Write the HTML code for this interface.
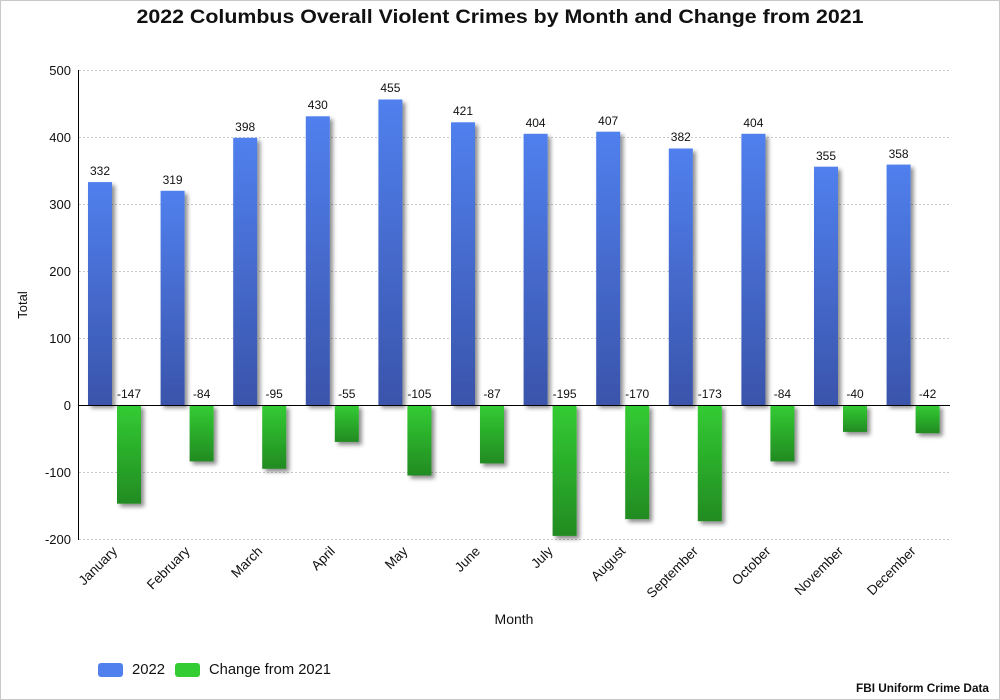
<!DOCTYPE html>
<html>
<head>
<meta charset="utf-8">
<style>
html,body{margin:0;padding:0;background:#fff;}
svg{display:block;}
text{font-family:"Liberation Sans",Arial,sans-serif;fill:#111;}
</style>
</head>
<body>
<svg width="1000" height="700" viewBox="0 0 1000 700" xmlns="http://www.w3.org/2000/svg">
<defs>
<linearGradient id="gb" x1="0" y1="0" x2="0" y2="1">
<stop offset="0" stop-color="#5080ee"/>
<stop offset="1" stop-color="#3a54ab"/>
</linearGradient>
<linearGradient id="gg" x1="0" y1="0" x2="0" y2="1">
<stop offset="0" stop-color="#33cc33"/>
<stop offset="1" stop-color="#228b22"/>
</linearGradient>
<filter id="sh" x="-30%" y="-10%" width="160%" height="130%">
<feDropShadow dx="3" dy="3" stdDeviation="2.2" flood-color="#000" flood-opacity="0.45"/>
</filter>
</defs>
<rect x="0.5" y="0.5" width="999" height="699" fill="#fff" stroke="#c8c8c8"/>

<text x="500" y="23" text-anchor="middle" font-size="19" font-weight="bold" textLength="727" lengthAdjust="spacingAndGlyphs">2022 Columbus Overall Violent Crimes by Month and Change from 2021</text>

<!-- gridlines -->
<g stroke="#c8c8c8" stroke-width="1" stroke-dasharray="2,2">
<line x1="79" y1="70.5" x2="950" y2="70.5"/>
<line x1="79" y1="137.5" x2="950" y2="137.5"/>
<line x1="79" y1="204.5" x2="950" y2="204.5"/>
<line x1="79" y1="271.5" x2="950" y2="271.5"/>
<line x1="79" y1="338.5" x2="950" y2="338.5"/>
<line x1="79" y1="472.5" x2="950" y2="472.5"/>
<line x1="79" y1="539.5" x2="950" y2="539.5"/>
</g>

<!-- y tick labels -->
<g font-size="13" text-anchor="end">
<text x="71" y="75">500</text>
<text x="71" y="142">400</text>
<text x="71" y="209">300</text>
<text x="71" y="276">200</text>
<text x="71" y="343">100</text>
<text x="71" y="410">0</text>
<text x="71" y="477">-100</text>
<text x="71" y="544">-200</text>
</g>

<text transform="translate(27,305) rotate(-90)" text-anchor="middle" font-size="13">Total</text>

<!-- bars -->
<g filter="url(#sh)">
<rect x="88" y="182.1" width="24" height="222.9" fill="url(#gb)"/>
<rect x="160.6" y="190.8" width="24" height="214.2" fill="url(#gb)"/>
<rect x="233.2" y="137.8" width="24" height="267.2" fill="url(#gb)"/>
<rect x="305.8" y="116.3" width="24" height="288.7" fill="url(#gb)"/>
<rect x="378.4" y="99.5" width="24" height="305.5" fill="url(#gb)"/>
<rect x="451" y="122.3" width="24" height="282.7" fill="url(#gb)"/>
<rect x="523.6" y="133.8" width="24" height="271.2" fill="url(#gb)"/>
<rect x="596.2" y="131.7" width="24" height="273.3" fill="url(#gb)"/>
<rect x="668.8" y="148.5" width="24" height="256.5" fill="url(#gb)"/>
<rect x="741.4" y="133.8" width="24" height="271.2" fill="url(#gb)"/>
<rect x="814" y="166.7" width="24" height="238.3" fill="url(#gb)"/>
<rect x="886.6" y="164.6" width="24" height="240.4" fill="url(#gb)"/>

<rect x="117" y="405" width="24" height="98.7" fill="url(#gg)"/>
<rect x="189.6" y="405" width="24" height="56.4" fill="url(#gg)"/>
<rect x="262.2" y="405" width="24" height="63.8" fill="url(#gg)"/>
<rect x="334.8" y="405" width="24" height="36.9" fill="url(#gg)"/>
<rect x="407.4" y="405" width="24" height="70.5" fill="url(#gg)"/>
<rect x="480" y="405" width="24" height="58.4" fill="url(#gg)"/>
<rect x="552.6" y="405" width="24" height="130.9" fill="url(#gg)"/>
<rect x="625.2" y="405" width="24" height="114.1" fill="url(#gg)"/>
<rect x="697.8" y="405" width="24" height="116.2" fill="url(#gg)"/>
<rect x="770.4" y="405" width="24" height="56.4" fill="url(#gg)"/>
<rect x="843" y="405" width="24" height="26.9" fill="url(#gg)"/>
<rect x="915.6" y="405" width="24" height="28.2" fill="url(#gg)"/>
</g>

<!-- axes -->
<line x1="78.5" y1="70" x2="78.5" y2="540" stroke="#000" stroke-width="1"/>
<line x1="78" y1="405.5" x2="950" y2="405.5" stroke="#000" stroke-width="1"/>

<!-- value labels -->
<g font-size="12" text-anchor="middle">
<text x="100" y="175">332</text>
<text x="172.6" y="184">319</text>
<text x="245.2" y="131">398</text>
<text x="317.8" y="109">430</text>
<text x="390.4" y="92">455</text>
<text x="463" y="115">421</text>
<text x="535.6" y="127">404</text>
<text x="608.2" y="125">407</text>
<text x="680.8" y="141">382</text>
<text x="753.4" y="127">404</text>
<text x="826" y="160">355</text>
<text x="898.6" y="158">358</text>

<text x="129" y="398">-147</text>
<text x="201.6" y="398">-84</text>
<text x="274.2" y="398">-95</text>
<text x="346.8" y="398">-55</text>
<text x="419.4" y="398">-105</text>
<text x="492" y="398">-87</text>
<text x="564.6" y="398">-195</text>
<text x="637.2" y="398">-170</text>
<text x="709.8" y="398">-173</text>
<text x="782.4" y="398">-84</text>
<text x="855" y="398">-40</text>
<text x="927.6" y="398">-42</text>
</g>

<!-- x tick labels -->
<g font-size="13.5" text-anchor="end">
<text transform="translate(118,552) rotate(-45)">January</text>
<text transform="translate(190.6,552) rotate(-45)">February</text>
<text transform="translate(263.2,552) rotate(-45)">March</text>
<text transform="translate(335.8,552) rotate(-45)">April</text>
<text transform="translate(408.4,552) rotate(-45)">May</text>
<text transform="translate(481,552) rotate(-45)">June</text>
<text transform="translate(553.6,552) rotate(-45)">July</text>
<text transform="translate(626.2,552) rotate(-45)">August</text>
<text transform="translate(698.8,552) rotate(-45)">September</text>
<text transform="translate(771.4,552) rotate(-45)">October</text>
<text transform="translate(844,552) rotate(-45)">November</text>
<text transform="translate(916.6,552) rotate(-45)">December</text>
</g>

<text x="514" y="624" text-anchor="middle" font-size="14">Month</text>

<!-- legend -->
<rect x="98" y="663" width="25" height="14" rx="3" fill="#5080ee"/>
<text x="132" y="674" font-size="14.5" textLength="33" lengthAdjust="spacingAndGlyphs">2022</text>
<rect x="175" y="663" width="25" height="14" rx="3" fill="#33cc33"/>
<text x="209" y="674" font-size="14.5" textLength="122" lengthAdjust="spacingAndGlyphs">Change from 2021</text>

<text x="989" y="692" text-anchor="end" font-size="12" font-weight="bold" textLength="133" lengthAdjust="spacingAndGlyphs">FBI Uniform Crime Data</text>
</svg>
</body>
</html>
